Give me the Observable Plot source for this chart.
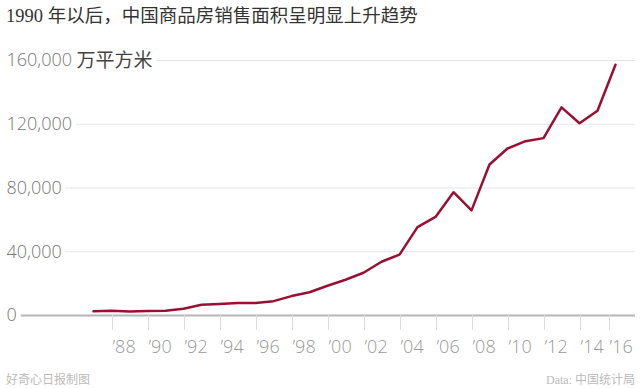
<!DOCTYPE html>
<html><head><meta charset="utf-8">
<script src="https://cdn.jsdelivr.net/npm/d3@7"></script>
<script src="https://cdn.jsdelivr.net/npm/@observablehq/plot@0.6"></script>
<style>
body{margin:0;background:#fff;width:640px;height:388px;overflow:hidden}
#title{font-family:"Liberation Serif","Noto Sans CJK SC",serif;font-size:18.5px;color:#333;height:32px;line-height:32px;padding-left:6px;white-space:nowrap}
#caption{position:relative;height:26px;font-family:"Liberation Serif","Noto Sans CJK SC",serif;font-size:12px;color:#bbb}
#caption span{position:absolute;top:10px;line-height:16px}
#src-left{left:6px}
#src-right{right:5px}
svg{display:block}
</style></head><body>
<div id="title"></div>
<div id="chart"></div>
<div id="caption"><span id="src-left"></span><span id="src-right"></span></div>
<script>
const titleText = "1990 年以后，中国商品房销售面积呈明显上升趋势";
const creditText = "好奇心日报制图";
const sourceText = "Data: 中国统计局";
const unit = "万平方米";

const years = [1987,1988,1989,1990,1991,1992,1993,1994,1995,1996,1997,1998,1999,2000,2001,2002,2003,2004,2005,2006,2007,2008,2009,2010,2011,2012,2013,2014,2015,2016];
const area = [2697,2977,2577,2872,3025,4289,6688,7230,7906,7900,9010,12185,14557,18637,22412,26808,33718,38232,55486,61857,77355,65970,94755,104765,109367,111304,130551,120649,128495,157349];
const yTicks = [0,40000,80000,120000,160000];
const xTicks = [1988,1990,1992,1994,1996,1998,2000,2002,2004,2006,2008,2010,2012,2014,2016];

document.getElementById("title").textContent = titleText;
document.getElementById("src-left").textContent = creditText;
document.getElementById("src-right").textContent = sourceText;

const data = years.map((y,i)=>({year:y, value:area[i]}));
const fmt = d3.format(",");
const lastTick = xTicks[xTicks.length-1];
const xAxisStyle = {tickSize:15, tickPadding:10, tickFormat:d=>"\u2019"+String(d).slice(2), textAnchor:"start", stroke:"#ddd", fill:"#999", fontSize:18, fontWeight:300, label:null};

const plot = Plot.plot({
  width:640, height:330,
  marginTop:28, marginBottom:47, marginLeft:6, marginRight:5,
  style:{fontFamily:"'Open Sans', sans-serif", background:"#fff"},
  x:{domain:[1982.1667, 2017.111], axis:null},
  y:{domain:[0,160000], axis:null},
  marks:[
    Plot.ruleY(yTicks.filter(d=>d>0), {stroke:"#e6e6e6", strokeWidth:1.2}),
    Plot.ruleY([0], {stroke:"#b5b5b5", strokeWidth:2}),
    Plot.axisX({...xAxisStyle, ticks:xTicks.filter(d=>d!==lastTick), dx:1}),
    Plot.axisX({...xAxisStyle, ticks:[lastTick], dx:-6}),
    Plot.lineY(data,{x:"year", y:"value", stroke:"#9a1034", strokeWidth:2.5}),
    Plot.text(yTicks, {y:d=>d, frameAnchor:"left", text:d=>fmt(d), textAnchor:"start", fill:"#777", stroke:"white", strokeWidth:10, paintOrder:"stroke", fontSize:18, fontWeight:300}),
    Plot.text([unit], {y:[160000], frameAnchor:"left", text:d=>d, textAnchor:"start", dx:70, fill:"#444", stroke:"white", strokeWidth:10, paintOrder:"stroke", fontSize:19, fontFamily:"'Noto Sans CJK SC', sans-serif"})
  ]
});
document.getElementById("chart").appendChild(plot);
</script>
</body></html>
